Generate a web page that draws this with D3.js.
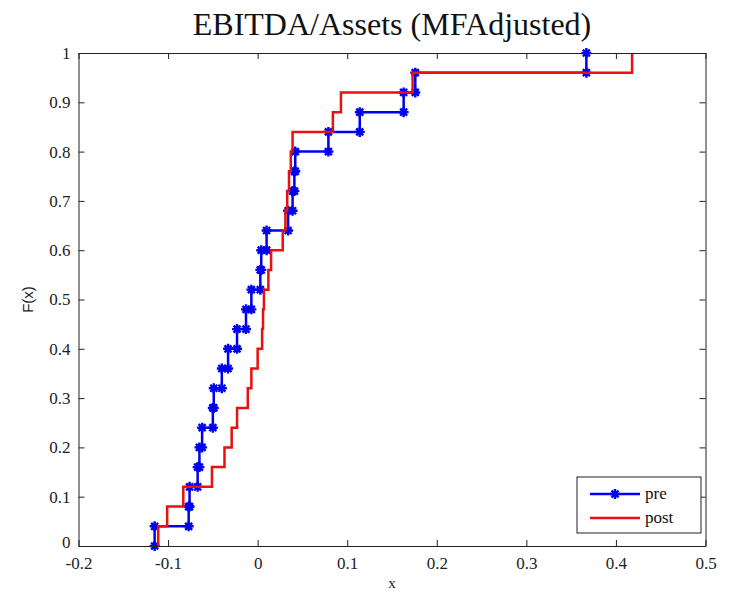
<!DOCTYPE html>
<html>
<head>
<meta charset="utf-8" />
<script src="https://cdn.jsdelivr.net/npm/d3@7"></script>
<style>
  body { margin: 0; background: #fff; }
  svg { display: block; }
</style>
</head>
<body>
<div id="chart"></div>
<script>
// sorted sample values (25 per group)
var preValues = [-0.115, -0.077, -0.076, -0.067, -0.065, -0.062, -0.050, -0.049, -0.040, -0.033,
                 -0.023, -0.013, -0.007, 0.003, 0.004, 0.010, 0.034, 0.039, 0.041, 0.042,
                 0.079, 0.114, 0.163, 0.176, 0.367];
var postValues = [-0.111, -0.101, -0.083, -0.051, -0.037, -0.029, -0.023, -0.011, -0.007, 0.000,
                  0.005, 0.006, 0.007, 0.012, 0.015, 0.028, 0.031, 0.033, 0.035, 0.037,
                  0.039, 0.084, 0.093, 0.173, 0.418];
var seriesNames = ['pre', 'post'];
var xTicks = [-0.2, -0.1, 0, 0.1, 0.2, 0.3, 0.4, 0.5];
var xTickLabels = ['-0.2', '-0.1', '0', '0.1', '0.2', '0.3', '0.4', '0.5'];
var yTicks = [0, 0.1, 0.2, 0.3, 0.4, 0.5, 0.6, 0.7, 0.8, 0.9, 1];
var yTickLabels = ['0', '0.1', '0.2', '0.3', '0.4', '0.5', '0.6', '0.7', '0.8', '0.9', '1'];

var width = 733;
var height = 596;
var margin = { left: 78.5, right: 27.5, top: 53, bottom: 50 };

var blue = '#0000f0';
var red = '#e81010';
var fontSerif = '"Liberation Serif", "Times New Roman", serif';

var svg = d3.select('#chart')
    .append('svg')
    .attr('width', width)
    .attr('height', height);

var x = d3.scaleLinear().domain([-0.2, 0.5]).range([margin.left, width - margin.right]);
var y = d3.scaleLinear().domain([0, 1]).range([height - margin.bottom, margin.top]);

// ecdf points like matlab: first (x1, 0) then (xi, i/n)
function ecdf(values) {
    var n = values.length;
    var pts = [[values[0], 0]];
    values.forEach(function (v, i) { pts.push([v, (i + 1) / n]); });
    return pts;
}

// marker vertices at both corners of every step
function corners(values) {
    var n = values.length;
    var out = [];
    values.forEach(function (v, i) {
        out.push([v, i / n]);
        out.push([v, (i + 1) / n]);
    });
    return out;
}

var line = d3.line()
    .x(function (d) { return x(d[0]); })
    .y(function (d) { return y(d[1]); })
    .curve(d3.curveStepAfter);

var star = 'M-5,0L5,0M0,-5L0,5M-3.5,-3.5L3.5,3.5M-3.5,3.5L3.5,-3.5';

// pre
svg.append('path')
    .datum(ecdf(preValues))
    .attr('d', line)
    .attr('fill', 'none')
    .attr('stroke', blue)
    .attr('stroke-width', 2.5);

svg.append('g')
    .selectAll('path')
    .data(corners(preValues))
    .enter()
    .append('path')
    .attr('d', star)
    .attr('transform', function (d) { return 'translate(' + x(d[0]) + ',' + y(d[1]) + ')'; })
    .attr('stroke', blue)
    .attr('stroke-width', 2.4)
    .attr('fill', 'none');

// post
svg.append('path')
    .datum(ecdf(postValues))
    .attr('d', line)
    .attr('fill', 'none')
    .attr('stroke', red)
    .attr('stroke-width', 2.5);

// axes box with inward ticks
svg.append('g')
    .attr('transform', 'translate(0,' + y(0) + ')')
    .call(d3.axisBottom(x).tickValues(xTicks)
        .tickFormat(function (d, i) { return xTickLabels[i]; })
        .tickSizeInner(-6).tickSizeOuter(0).tickPadding(11));
svg.append('g')
    .attr('transform', 'translate(0,' + y(1) + ')')
    .call(d3.axisTop(x).tickValues(xTicks).tickFormat('')
        .tickSizeInner(-6).tickSizeOuter(0));
var yAxis = svg.append('g')
    .attr('transform', 'translate(' + x(-0.2) + ',0)')
    .call(d3.axisLeft(y).tickValues(yTicks)
        .tickFormat(function (d, i) { return yTickLabels[i]; })
        .tickSizeInner(-6).tickSizeOuter(0).tickPadding(8));
svg.append('g')
    .attr('transform', 'translate(' + x(0.5) + ',0)')
    .call(d3.axisRight(y).tickValues(yTicks).tickFormat('')
        .tickSizeInner(-6).tickSizeOuter(0));

svg.selectAll('.domain, .tick line').attr('stroke', '#222').attr('stroke-width', 1);
svg.selectAll('.tick text')
    .attr('fill', '#222')
    .attr('font-family', fontSerif)
    .style('font-family', fontSerif)
    .style('font-size', '17px');
// matlab puts the bottom y label a bit higher
yAxis.selectAll('.tick text').filter(function (d) { return d === 0; }).attr('dy', '0.1em');

// title and axis labels
svg.append('text')
    .attr('x', (x(-0.2) + x(0.5)) / 2)
    .attr('y', 35)
    .attr('text-anchor', 'middle')
    .style('font-family', fontSerif)
    .style('font-size', '32px')
    .attr('fill', '#111')
    .text('EBITDA/Assets (MFAdjusted)');

svg.append('text')
    .attr('x', (x(-0.2) + x(0.5)) / 2)
    .attr('y', 588)
    .attr('text-anchor', 'middle')
    .style('font-family', fontSerif)
    .style('font-size', '15px')
    .attr('fill', '#222')
    .text('x');

svg.append('text')
    .attr('transform', 'translate(33,' + y(0.5) + ') rotate(-90)')
    .attr('text-anchor', 'middle')
    .style('font-family', '"Liberation Sans", Arial, sans-serif')
    .style('font-size', '15px')
    .attr('fill', '#222')
    .text('F(x)');

// legend
var legend = svg.append('g').attr('transform', 'translate(577,477)');
legend.append('rect')
    .attr('width', 124).attr('height', 56)
    .attr('fill', '#fff').attr('stroke', '#222').attr('stroke-width', 1);

var colors = [blue, red];
seriesNames.forEach(function (name, i) {
    var ly = 17 + i * 24;
    legend.append('line')
        .attr('x1', 13).attr('x2', 63).attr('y1', ly).attr('y2', ly)
        .attr('stroke', colors[i]).attr('stroke-width', 2.5);
    if (i === 0) {
        legend.append('path').attr('d', star)
            .attr('transform', 'translate(38,' + ly + ')')
            .attr('stroke', blue).attr('stroke-width', 2.4).attr('fill', 'none');
    }
    legend.append('text')
        .attr('x', 68).attr('y', ly + 5)
        .style('font-family', fontSerif)
        .style('font-size', '17px')
        .attr('fill', '#111')
        .text(name);
});
</script>
</body>
</html>
